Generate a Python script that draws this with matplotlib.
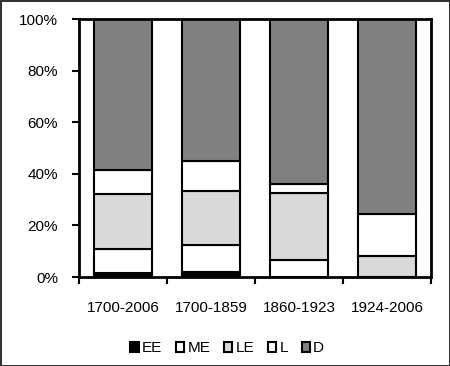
import matplotlib
matplotlib.use("Agg")
import matplotlib.pyplot as plt
import numpy as np

# Data (percent of each period)
periods = ["1700-2006", "1700-1859", "1860-1923", "1924-2006"]
series_names = ["EE", "ME", "LE", "L", "D"]
ee = [1.5, 2.0, 0.0, 0.0]
me = [9.4, 10.6, 6.6, 0.0]
le = [21.4, 20.9, 26.1, 8.0]
l_ = [9.2, 11.5, 3.5, 16.6]
d = [58.5, 55.0, 63.8, 75.4]
colors = ["#000000", "#ffffff", "#d9d9d9", "#ffffff", "#808080"]

plt.rcParams["font.family"] = ["Liberation Sans", "DejaVu Sans"]

fig = plt.figure(figsize=(4.5, 3.66), dpi=100)
fig.patch.set_edgecolor("#333333")
fig.patch.set_linewidth(2)
ax = fig.add_axes([0.1756, 0.243, 0.7822, 0.705])

x = np.arange(len(periods))
bottom = np.zeros(len(periods))
for name, vals, col in zip(series_names, [ee, me, le, l_, d], colors):
    ax.bar(x, vals, width=0.66, bottom=bottom, color=col, edgecolor="black",
           linewidth=1.5, label=name)
    bottom += np.array(vals)

ax.set_xlim(-0.5, 3.5)
ax.set_ylim(0, 100)
ax.set_yticks(range(0, 101, 20))
ax.set_yticklabels([f"{v}%" for v in range(0, 101, 20)], fontsize=11)
ax.set_xticks(x)
ax.set_xticklabels(periods, fontsize=11)
ax.tick_params(axis="x", which="major", length=0, pad=17)
ax.set_xticks(np.arange(-0.5, 4, 1), minor=True)
ax.tick_params(axis="x", which="minor", length=5, width=1.5, direction="out")
ax.tick_params(axis="y", length=5, width=1.5, direction="out", pad=10)
for sp in ax.spines.values():
    sp.set_linewidth(2)

fig.legend(loc="center", bbox_to_anchor=(0.505, 0.048), ncol=5, frameon=False,
           fontsize=11, handlelength=0.55, handleheight=0.55,
           handletextpad=0.2, columnspacing=0.9)

fig.savefig("out.png", dpi=100)
